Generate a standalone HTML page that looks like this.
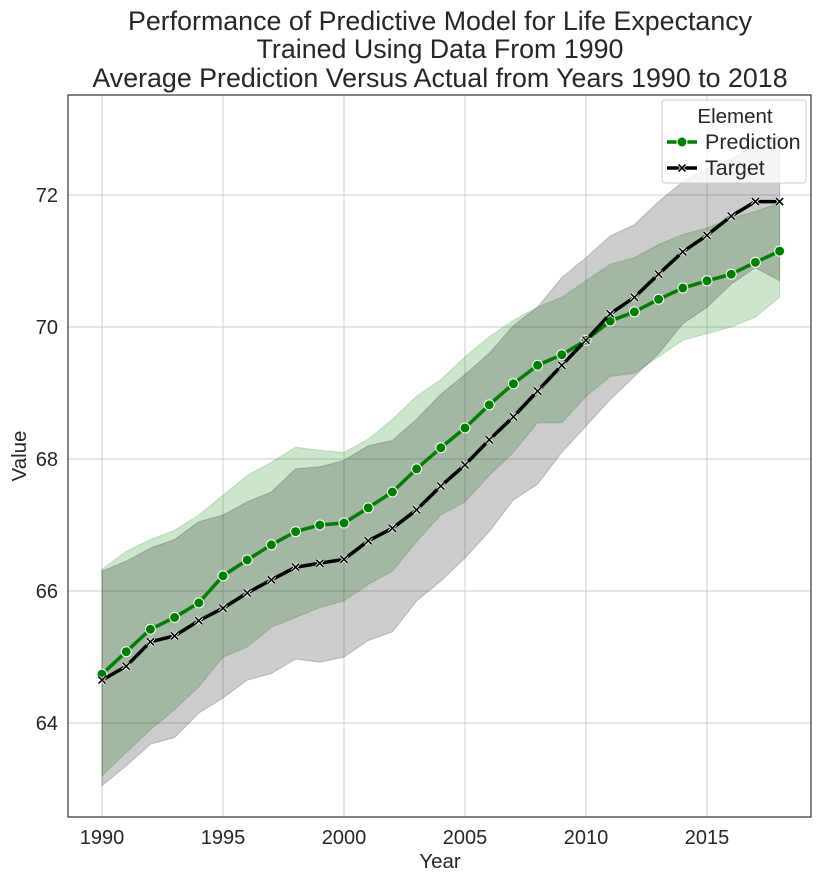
<!DOCTYPE html>
<html><head><meta charset="utf-8"><style>
body{margin:0;background:#fff;}
svg text{font-family:"Liberation Sans",Arial,sans-serif;fill:#262626;}
</style></head><body>
<svg id="chart" width="821" height="883" xmlns="http://www.w3.org/2000/svg">
<g id="g"></g>
</svg>
<script>
const years=[1990,1991,1992,1993,1994,1995,1996,1997,1998,1999,2000,2001,2002,2003,2004,2005,2006,2007,2008,2009,2010,2011,2012,2013,2014,2015,2016,2017,2018];
const predMean=[64.74,65.08,65.42,65.6,65.82,66.23,66.47,66.7,66.9,67.0,67.03,67.26,67.5,67.85,68.17,68.47,68.82,69.14,69.42,69.58,69.8,70.09,70.23,70.42,70.59,70.7,70.8,70.98,71.15];
const predUpper=[66.33,66.6,66.78,66.92,67.15,67.45,67.75,67.95,68.18,68.13,68.1,68.3,68.6,68.95,69.2,69.55,69.85,70.1,70.3,70.45,70.7,70.95,71.05,71.25,71.4,71.5,71.65,71.75,71.88];
const predLower=[63.2,63.55,63.9,64.2,64.55,65.0,65.15,65.45,65.6,65.75,65.85,66.1,66.3,66.75,67.15,67.35,67.75,68.1,68.55,68.55,68.95,69.25,69.3,69.55,69.8,69.9,70.0,70.15,70.45];
const targMean=[64.65,64.86,65.23,65.32,65.55,65.74,65.97,66.17,66.36,66.42,66.48,66.76,66.95,67.23,67.59,67.91,68.29,68.64,69.03,69.42,69.8,70.2,70.45,70.8,71.14,71.39,71.68,71.9,71.9];
const targUpper=[66.3,66.45,66.65,66.78,67.05,67.15,67.35,67.5,67.85,67.88,67.98,68.2,68.28,68.6,68.98,69.28,69.6,70.02,70.3,70.75,71.05,71.38,71.55,71.9,72.2,72.4,72.55,72.75,72.9];
const targLower=[63.05,63.35,63.68,63.78,64.15,64.38,64.65,64.75,64.97,64.92,65.0,65.25,65.38,65.85,66.15,66.5,66.9,67.38,67.62,68.1,68.5,68.9,69.25,69.6,70.05,70.3,70.65,70.9,70.7];
const xTicks=[1990,1995,2000,2005,2010,2015];
const yTicks=[64,66,68,70,72];

const NS="http://www.w3.org/2000/svg";
const g=document.getElementById('g');
const L=68,R=811,T=95,B=817;
const x=v=>102+(v-1990)*24.2;
const y=v=>327-(v-70)*66;
function mk(t,a,p){const e=document.createElementNS(NS,t);for(const k in a)e.setAttribute(k,a[k]);(p||g).appendChild(e);return e;}

xTicks.forEach(t=>{
 const l=mk('line',{x1:x(t),x2:x(t),y1:T,y2:B,stroke:'#cccccc','stroke-width':1});
 
 
 const tx=mk('text',{x:x(t),y:844,'text-anchor':'middle','font-size':20});tx.textContent=t;
 
 
});
yTicks.forEach(t=>{
 const l=mk('line',{x1:L,x2:R,y1:y(t),y2:y(t),stroke:'#cccccc','stroke-width':1});
 
 
 const tx=mk('text',{x:58,y:y(t)+7,'text-anchor':'end','font-size':20});tx.textContent=t;
 
 
});
function band(up,lo,fill,name){
 let d='M'+years.map((yr,i)=>x(yr)+','+y(up[i])).join('L');
 d+='L'+years.map((yr,i)=>[x(yr),y(lo[i])]).reverse().map(p=>p.join(',')).join('L')+'Z';
 const p=mk('path',{d:d,fill:fill,stroke:fill});
 
 
}
band(predUpper,predLower,'rgba(0,128,0,0.2)','prediction-band');
band(targUpper,targLower,'rgba(0,0,0,0.2)','target-band');
function line(vals,col,name){
 const p=mk('polyline',{points:years.map((yr,i)=>x(yr)+','+y(vals[i])).join(' '),fill:'none',stroke:col,'stroke-width':3.5,'stroke-linejoin':'round'});
 
 
}
line(predMean,'#008000','prediction-line');
years.forEach((yr,i)=>{
 const c=mk('circle',{cx:x(yr),cy:y(predMean[i]),r:5,fill:'#008000',stroke:'#fff','stroke-width':1});
 
 
});
line(targMean,'#000','target-line');
years.forEach((yr,i)=>{
 const cx=x(yr),cy=y(targMean[i]);
 const d=`M${cx-3.5},${cy-3.5}L${cx+3.5},${cy+3.5}M${cx-3.5},${cy+3.5}L${cx+3.5},${cy-3.5}`;
 const m=mk('path',{d:d,stroke:'#fff','stroke-width':3.2});
 
 
 const m2=mk('path',{d:d,stroke:'#000','stroke-width':1.6});
 
 
});
const fr=mk('rect',{x:L,y:T,width:R-L,height:B-T,fill:'none',stroke:'#333','stroke-width':1.2});


</script>
<svg style="position:absolute;left:0;top:0" width="821" height="883">
<g font-size="26.8" text-anchor="middle">
<text x="440" y="30">Performance of Predictive Model for Life Expectancy</text>
<text x="440" y="58">Trained Using Data From 1990</text>
<text x="440" y="87">Average Prediction Versus Actual from Years 1990 to 2018</text>
</g>
<text x="440" y="868" text-anchor="middle" font-size="20.5">Year</text>
<text transform="translate(26,456) rotate(-90)" text-anchor="middle" font-size="20.5">Value</text>
<g>
<rect x="662" y="100" width="144" height="83" rx="3" fill="rgba(255,255,255,0.8)" stroke="#ccc"/>
<text x="735" y="123" text-anchor="middle" font-size="20.5">Element</text>
<g>
<line x1="667" x2="697" y1="142" y2="142" stroke="#008000" stroke-width="3.5"/>
<circle cx="682" cy="142" r="5" fill="#008000" stroke="#fff"/>
<text x="705" y="149" font-size="21.5">Prediction</text></g>
<g>
<line x1="667" x2="697" y1="168" y2="168" stroke="#000" stroke-width="3.5"/>
<path d="M678.5,164.5L685.5,171.5M678.5,171.5L685.5,164.5" stroke="#fff" stroke-width="3.2"/>
<path d="M678.5,164.5L685.5,171.5M678.5,171.5L685.5,164.5" stroke="#000" stroke-width="1.6"/>
<text x="705" y="175" font-size="21.5">Target</text></g>
</g>
</svg>
</body></html>
